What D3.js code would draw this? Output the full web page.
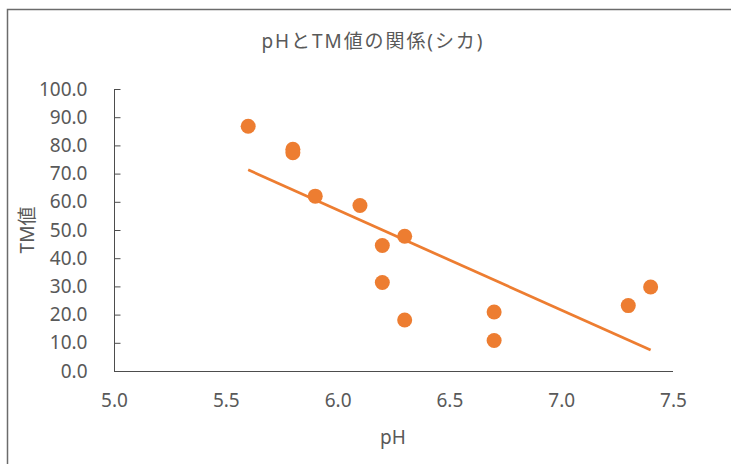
<!DOCTYPE html>
<head>
<meta charset="utf-8">
<title>pHとTM値の関係(シカ)</title>
<style>
    body { margin:0; background:#fff; }
    svg { display:block; }
    text { font-family: "Noto Sans", "Noto Sans CJK JP", sans-serif; fill:#595959; }
</style>
</head>
<body>
<svg width="731" height="464"></svg>

<script src="https://cdnjs.cloudflare.com/ajax/libs/d3/7.8.5/d3.min.js"></script>
<script>
// values
var phValues = [5.6, 5.8, 5.8, 5.9, 6.1, 6.2, 6.2, 6.3, 6.3, 6.7, 6.7, 7.3, 7.4];
var tmValues = [86.8, 78.6, 77.4, 62.0, 58.7, 44.5, 31.4, 47.8, 18.1, 20.9, 10.8, 23.2, 29.8];
var xTicks = [5.0, 5.5, 6.0, 6.5, 7.0, 7.5];
var yTicks = [0, 10, 20, 30, 40, 50, 60, 70, 80, 90, 100];

var orange = "#ED7D31";
var svg = d3.select("svg");

// frame
svg.append("rect")
    .attr("x", 7.5).attr("y", 9.5)
    .attr("width", 760).attr("height", 500)
    .attr("fill", "none").attr("stroke", "#6b6b6b").attr("stroke-width", 1.5);

var x = d3.scaleLinear().domain([5, 7.5]).range([114, 673]);
var y = d3.scaleLinear().domain([0, 100]).range([371, 89]);

// title
svg.append("text")
    .attr("x", 372).attr("y", 48)
    .attr("text-anchor", "middle")
    .style("font-size", "19px")
    .attr("textLength", 221)
    .text("pHとTM値の関係(シカ)");

// y axis, ticks inside
var yAxis = d3.axisLeft(y).tickValues(yTicks).tickSize(-6).tickPadding(27)
    .tickFormat(d3.format(".1f"));
var gy = svg.append("g").attr("transform", "translate(114.5,0)").call(yAxis);
gy.select(".domain").attr("d", "M-6," + y(100) + "H0V" + y(0) + "H-6")
    .remove();
gy.selectAll(".tick line").attr("stroke", "#4d4d4d").attr("x1", 0).attr("x2", 6);
gy.selectAll("text").style("font-size", "19px").attr("fill", "#595959").style("font-family", null);
gy.append("line").attr("x1", 0).attr("x2", 0)
    .attr("y1", y(100)).attr("y2", y(0)).attr("stroke", "#4d4d4d");

// x axis, no ticks
var xAxis = d3.axisBottom(x).tickValues(xTicks).tickSize(0).tickPadding(22)
    .tickFormat(d3.format(".1f"));
var gx = svg.append("g").attr("transform", "translate(0,371.5)").call(xAxis);
gx.select(".domain").attr("stroke", "#4d4d4d").attr("d", "M" + x(5) + ",0H" + x(7.5));
gx.selectAll("text").style("font-size", "19px").attr("fill", "#595959").style("font-family", null);

// axis titles
svg.append("text")
    .attr("x", 393).attr("y", 444)
    .attr("text-anchor", "middle")
    .style("font-size", "19px")
    .text("pH");

svg.append("text")
    .attr("transform", "translate(34,230) rotate(-90)")
    .attr("text-anchor", "middle")
    .style("font-size", "19px")
    .text("TM値");

// linear trend line (least squares from the points)
var mx = d3.mean(phValues), my = d3.mean(tmValues);
var sxy = d3.sum(phValues, function(v, i){ return (v - mx) * (tmValues[i] - my); });
var sxx = d3.sum(phValues, function(v){ return (v - mx) * (v - mx); });
var slope = sxy / sxx, icpt = my - slope * mx;
var x0 = d3.min(phValues), x1 = d3.max(phValues);

svg.append("line")
    .attr("x1", x(x0)).attr("y1", y(icpt + slope * x0))
    .attr("x2", x(x1)).attr("y2", y(icpt + slope * x1))
    .attr("stroke", orange).attr("stroke-width", 2.75);

// points
svg.selectAll("circle.pt")
    .data(phValues)
    .enter().append("circle")
    .attr("class", "pt")
    .attr("cx", function(d){ return x(d); })
    .attr("cy", function(d, i){ return y(tmValues[i]); })
    .attr("r", 7.5)
    .attr("fill", orange);
</script>
</body>
